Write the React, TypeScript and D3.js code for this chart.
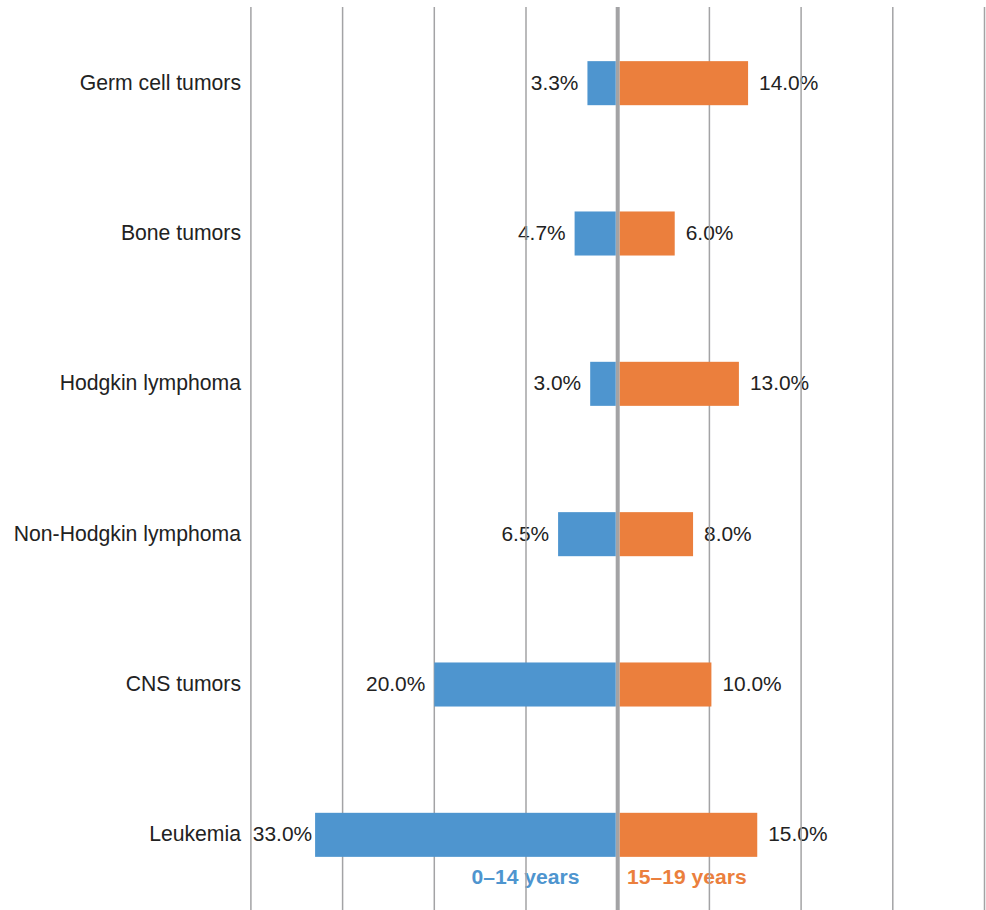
import React from "react";
import * as d3 from "d3";

const categories = [
  "Germ cell tumors",
  "Bone tumors",
  "Hodgkin lymphoma",
  "Non-Hodgkin lymphoma",
  "CNS tumors",
  "Leukemia",
];
const ages0to14 = [3.3, 4.7, 3.0, 6.5, 20.0, 33.0];
const ages15to19 = [14.0, 6.0, 13.0, 8.0, 10.0, 15.0];
const gridTicks = [-40, -30, -20, -10, 0, 10, 20, 30, 40];
const seriesNames = ["0\u201314 years", "15\u201319 years"];

const W = 986;
const H = 910;
const BLUE = "#4e95cf";
const ORANGE = "#eb7f3d";
const GRID = "#a3a3a5";
const TEXT = "#222";
const FONT = "'Liberation Sans', Arial, Helvetica, sans-serif";

export default function App() {
  const x = d3.scaleLinear().domain([-40, 40]).range([250.9, 984.5]);
  const y = d3
    .scaleBand<string>()
    .domain(categories)
    .range([8, 910])
    .paddingInner(0.707)
    .paddingOuter(0.3535);
  const x0 = x(0);
  const axisHalf = 2; // half width of the zero line
  const fmt = (v: number) => `${v.toFixed(1)}%`;
  const rowMid = (c: string) => (y(c) ?? 0) + y.bandwidth() / 2;
  // left labels sit 9px from the bar, squeezed closer when the bar is very long
  const leftGap = (v: number) => (v >= 30 ? 3 : 9);

  return (
    <svg
      width={W}
      height={H}
      style={{ position: "absolute", left: 0, top: 0, background: "#fff" }}
      fontFamily={FONT}
    >
      {/* category labels */}
      {categories.map((c) => (
        <text
          key={c}
          x={241}
          y={rowMid(c) + 6.5}
          textAnchor="end"
          fontSize={21.2}
          fill={TEXT}
        >
          {c}
        </text>
      ))}

      {/* value labels */}
      {categories.map((c, i) => {
        const cy = rowMid(c) + 6.5;
        return (
          <g key={c + "-v"} fontSize={20.9} fill={TEXT}>
            <text
              x={x(-ages0to14[i]) - leftGap(ages0to14[i])}
              y={cy}
              textAnchor="end"
            >
              {fmt(ages0to14[i])}
            </text>
            <text
              x={x(ages15to19[i]) + axisHalf + 11}
              y={cy}
              textAnchor="start"
            >
              {fmt(ages15to19[i])}
            </text>
          </g>
        );
      })}

      {/* legend */}
      <g fontSize={21.1} fontWeight="bold">
        <text x={579.5} y={884} textAnchor="end" fill={BLUE}>
          {seriesNames[0]}
        </text>
        <text x={627} y={884} textAnchor="start" fill={ORANGE}>
          {seriesNames[1]}
        </text>
      </g>

      {/* vertical gridlines */}
      {gridTicks.map((t) => (
        <line
          key={t}
          x1={x(t)}
          x2={x(t)}
          y1={7}
          y2={H}
          stroke={GRID}
          strokeWidth={t === 0 ? axisHalf * 2 : 1.5}
        />
      ))}

      {/* bars */}
      {categories.map((c, i) => (
        <g key={c + "-b"}>
          <rect
            x={x(-ages0to14[i])}
            y={y(c)}
            width={x0 - axisHalf - x(-ages0to14[i])}
            height={y.bandwidth()}
            fill={BLUE}
          />
          <rect
            x={x0 + axisHalf}
            y={y(c)}
            width={x(ages15to19[i]) - x0}
            height={y.bandwidth()}
            fill={ORANGE}
          />
        </g>
      ))}
    </svg>
  );
}
